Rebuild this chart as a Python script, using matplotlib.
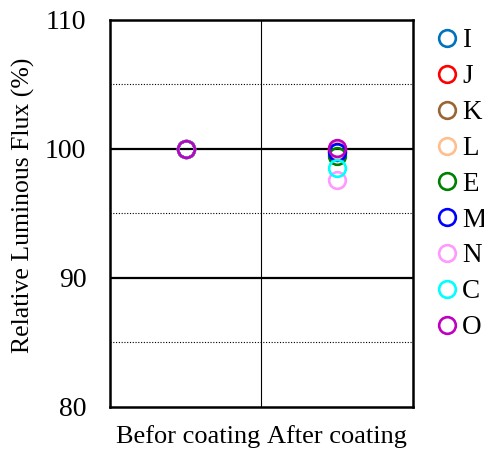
import matplotlib
matplotlib.use("Agg")
import matplotlib.pyplot as plt
from matplotlib.transforms import ScaledTranslation

# Relative luminous flux of each sample before and after coating
stages = ["Befor coating", "After coating"]
samples = ["I", "J", "K", "L", "E", "M", "N", "C", "O"]
before = [100.0, 100.0, 100.0, 100.0, 100.0, 100.0, 100.0, 100.0, 100.0]
after = [99.8, 100.0, 99.9, 99.9, 99.45, 99.75, 97.6, 98.5, 100.1]
colors = ["#0072bd", "#ff0000", "#996633", "#ffbf8c", "#008000",
          "#0000ff", "#ff99ff", "#00ffff", "#bf00bf"]

yticks = [80, 90, 100, 110]
minor_lines = [85, 95, 105]

plt.rcParams["font.family"] = ["Liberation Serif", "DejaVu Serif"]

fig = plt.figure(figsize=(4.85, 4.5), dpi=100)
ax = fig.add_axes([0.2268, 0.0956, 0.6247, 0.86])

xpos = [0.5, 1.5]
for name, b, a, c in zip(samples, before, after, colors):
    ax.plot(xpos, [b, a], linestyle="none", marker="o", markersize=12,
            markerfacecolor="none", markeredgecolor=c, markeredgewidth=1.9,
            label=name, zorder=3)

for y in [90, 100]:
    ax.axhline(y, color="black", lw=1.6, zorder=1)
for y in minor_lines:
    ax.axhline(y, color="black", lw=0.8, linestyle=(0, (1, 1.5)), zorder=1)
ax.axvline(1.0, color="black", lw=0.8, zorder=1)

ax.set_xlim(0, 2)
ax.set_ylim(80, 110)
ax.set_xticks(xpos)
ax.set_xticklabels(stages, fontsize=19)
ax.set_yticks(yticks)
ax.set_yticklabels([str(v) for v in yticks], fontsize=20)
ax.tick_params(axis="y", length=0, pad=17)
ax.tick_params(axis="x", length=0, pad=13)
for s in ax.spines.values():
    s.set_linewidth(1.8)

# nudge the first category label slightly to the right
first = ax.get_xticklabels()[0]
first.set_transform(first.get_transform()
                    + ScaledTranslation(0.025, 0, fig.dpi_scale_trans))

ax.set_ylabel("Relative Luminous Flux (%)", fontsize=18.5)
ax.yaxis.set_label_coords(-0.2475, 0.52)

ax.legend(loc="upper left", bbox_to_anchor=(1.0677, 0.978), frameon=False,
          fontsize=19.5, handletextpad=0.05, labelspacing=0.4,
          borderaxespad=0.0, borderpad=0.0, handlelength=1.0)

fig.savefig("out.png", dpi=100)
